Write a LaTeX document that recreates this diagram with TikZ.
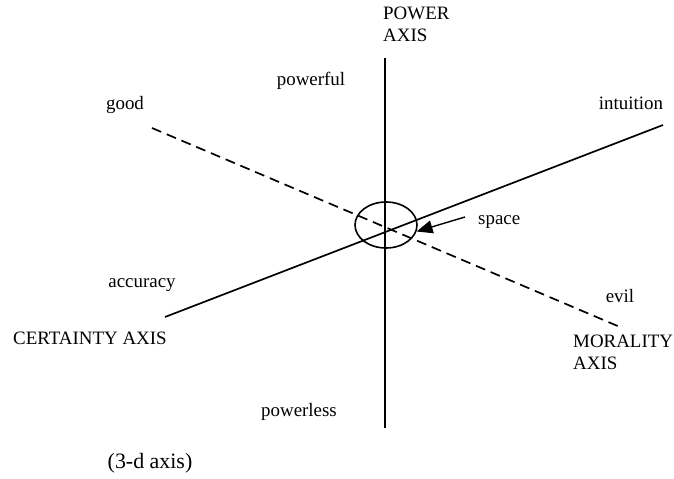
\documentclass[tikz,border=0pt]{standalone}
\usepackage{fontspec}
\setmainfont{Liberation Serif}
\usetikzlibrary{arrows.meta,shapes.geometric}

\begin{document}
\begin{tikzpicture}[
    x=1bp,y=-1bp,
    every node/.style={font=\fontsize{19}{22}\selectfont,inner sep=0pt},
    axisline/.style={line width=1.7pt},
    moraline/.style={line width=1.7pt,dash pattern=on 10bp off 6bp},
    arrow/.style={-{Triangle[length=16bp,width=13bp]},line width=1.4pt}
]
\useasboundingbox (0,0) rectangle (674,479);

% the three axes
\coordinate (powtop) at (385,58);
\coordinate (powbot) at (385,428);
\coordinate (certl) at (165,317);
\coordinate (certr) at (663,125);
\coordinate (moral) at (152,128);
\coordinate (morar) at (620,327);

\draw[axisline] (powtop) -- (powbot);
\draw[axisline] (certl) -- (certr);
\draw[moraline] (moral) -- (morar);

\node[draw,ellipse,line width=1.6pt,minimum width=62bp,minimum height=46bp] (space) at (386,225) {};

% labels
\node[anchor=north west,align=left] (powaxis) at (383,7) {POWER\\AXIS};
\node (powerful) at (311,81) {powerful};
\node (good) at (125,105) {good};
\node (intuition) at (631,103) {intuition};
\node[anchor=west] (spacelbl) at (478,222) {space};
\node (accuracy) at (142,285) {accuracy};
\node (certaxis) at (90,338) {CERTAINTY AXIS};
\node (evil) at (620,296) {evil};
\node[anchor=north west,align=left] (moraxis) at (573,335) {MORALITY\\AXIS};
\node (powerless) at (299,412) {powerless};
\node[font=\fontsize{22}{26}\selectfont] (caption) at (150,463) {(3-d axis)};

\coordinate (arrtail) at (465,217);
\draw[arrow] (arrtail) -- (space.-12);
\end{tikzpicture}
\end{document}
